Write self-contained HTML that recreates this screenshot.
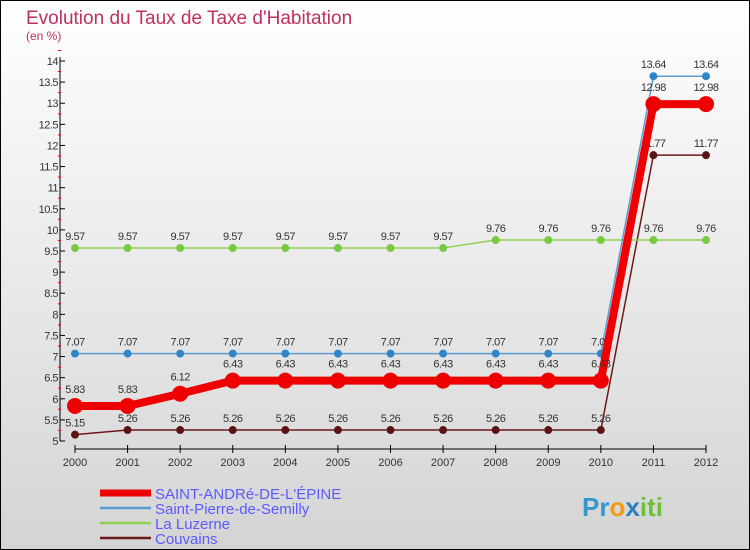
<!DOCTYPE html>
<html><head><meta charset="utf-8"><style>
body{margin:0}
svg{display:block;font-family:"Liberation Sans",sans-serif}
</style></head><body>
<svg id="c" width="750" height="550" xmlns="http://www.w3.org/2000/svg">
<defs><linearGradient id="bg" x1="0" y1="0" x2="0" y2="1"><stop offset="0" stop-color="#ffffff"/><stop offset="1" stop-color="#d4d4d4"/></linearGradient></defs>
<rect x="0.5" y="0.5" width="749" height="549" fill="url(#bg)" stroke="#000"/>
<text x="26" y="24" font-size="19" fill="#c0305f">Evolution du Taux de Taxe d'Habitation</text>
<text x="26" y="40" font-size="12" fill="#c0305f">(en %)</text>
<g id="axes"></g>
<g id="series"></g>
<g id="legend"></g>
<text x="582" y="516" font-size="26" font-weight="bold" fill="#3399cc">Pr<tspan fill="#f39c12">o</tspan><tspan fill="#2a7fc0">x</tspan><tspan fill="#6cbf3a">iti</tspan></text>
</svg>
<script>
const years=[2000,2001,2002,2003,2004,2005,2006,2007,2008,2009,2010,2011,2012];
const yTicks=[5,5.5,6,6.5,7,7.5,8,8.5,9,9.5,10,10.5,11,11.5,12,12.5,13,13.5,14];
const names=["SAINT-ANDRé-DE-L'ÉPINE","Saint-Pierre-de-Semilly","La Luzerne","Couvains"];
const colors=["#ee0000","#5b9bd5","#90d050","#6b1a1a"];
const dotColors=["#ee0000","#2e86c8","#7ac943","#5a1414"];
const widths=[8,1.5,1.5,1.5];
const radii=[8,4,4,4];
const sStAndre=[5.83,5.83,6.12,6.43,6.43,6.43,6.43,6.43,6.43,6.43,6.43,12.98,12.98];
const sStPierre=[7.07,7.07,7.07,7.07,7.07,7.07,7.07,7.07,7.07,7.07,7.07,13.64,13.64];
const sLuzerne=[9.57,9.57,9.57,9.57,9.57,9.57,9.57,9.57,9.76,9.76,9.76,9.76,9.76];
const sCouvains=[5.15,5.26,5.26,5.26,5.26,5.26,5.26,5.26,5.26,5.26,5.26,11.77,11.77];
const series=[sStAndre,sStPierre,sLuzerne,sCouvains];
const NS="http://www.w3.org/2000/svg";
const x=i=>75+i*(706-75)/(years.length-1);
const y=v=>441-(v-5)*(441-61)/9;
function mk(tag,attrs,parent){const e=document.createElementNS(NS,tag);for(const k in attrs)e.setAttribute(k,attrs[k]);parent.appendChild(e);return e;}
const ax=document.getElementById('axes');
const yl=mk('line',{x1:60,y1:57,x2:60,y2:441,stroke:'#000'},ax);


const xl=mk('line',{x1:75,y1:449,x2:706,y2:449,stroke:'#000'},ax);


yTicks.forEach(v=>{
  mk('line',{x1:60,y1:y(v),x2:65,y2:y(v),stroke:'#000'},ax);
  mk('line',{x1:58,y1:y(v+0.25),x2:61,y2:y(v+0.25),stroke:'#e00'},ax);
  const t=mk('text',{x:58,y:y(v)+4,'font-size':11,'text-anchor':'end',fill:'#333','letter-spacing':'-0.5'},ax);
  t.textContent=String(v);
  
  
});
years.forEach((yr,i)=>{
  mk('line',{x1:x(i),y1:445,x2:x(i),y2:453,stroke:'#000'},ax);
  const t=mk('text',{x:x(i),y:466,'font-size':11,'text-anchor':'middle',fill:'#333'},ax);
  t.textContent=yr;
  
  
});
const sg=document.getElementById('series');
[3,2,1,0].forEach(s=>{
  const g=mk('g',{},sg);
  
  
  const d=series[s];
  const p=mk('polyline',{points:d.map((v,i)=>x(i)+','+y(v)).join(' '),fill:'none',stroke:colors[s],'stroke-width':widths[s]},g);
  
  
  d.forEach((v,i)=>{
    const c=mk('circle',{cx:x(i),cy:y(v),r:radii[s],fill:dotColors[s]},g);
    
    
    const t=mk('text',{x:x(i),y:y(v)-(s===0?13:8),'font-size':11,'text-anchor':'middle',fill:'#333','letter-spacing':'-0.5'},g);
    t.textContent=v.toFixed(2);
    
    
  });
});
const lg=document.getElementById('legend');
names.forEach((n,i)=>{
  const yy=493+i*15;
  const l=mk('line',{x1:100,y1:yy,x2:151,y2:yy,stroke:colors[i],'stroke-width':i===0?7:2.5},lg);
  
  
  const t=mk('text',{x:155,y:yy+6,'font-size':15,fill:'#5a5aff'},lg);
  t.textContent=n;
  
  
});
</script>
</body></html>
